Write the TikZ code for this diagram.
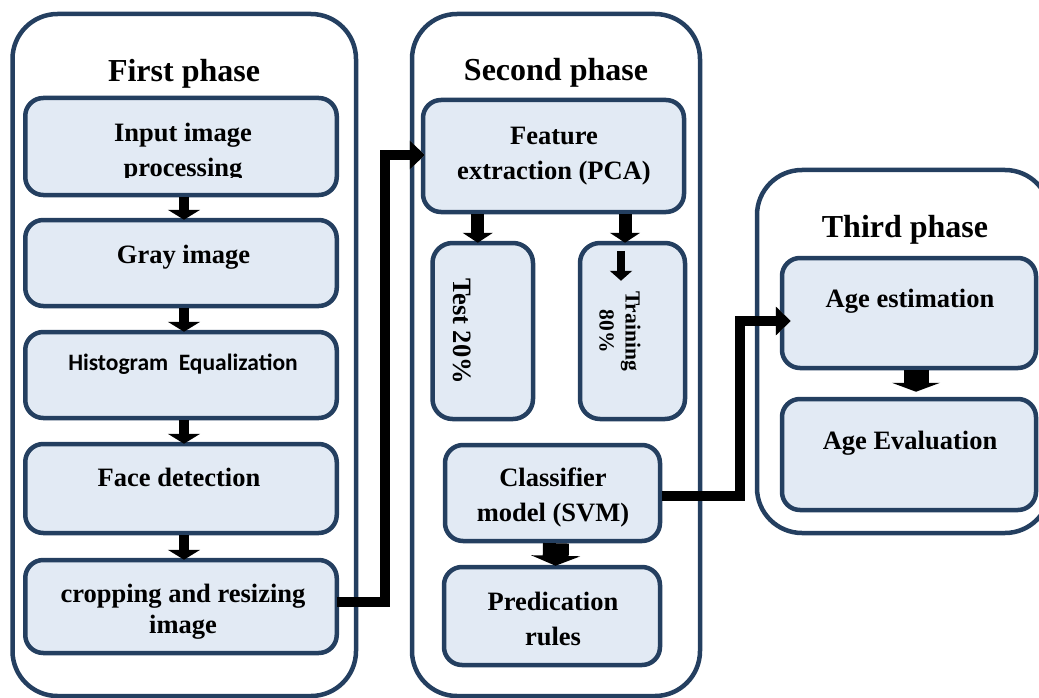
\documentclass[tikz,border=0pt]{standalone}
\usepackage{fontspec}
\setmainfont{Liberation Serif}
\newfontfamily\calfont{Carlito}
\usetikzlibrary{arrows.meta,calc}
\definecolor{navy}{HTML}{243F60}
\definecolor{boxfill}{HTML}{E2EAF4}
\begin{document}
\begin{tikzpicture}[x=1pt,y=-1pt,
  phase/.style={draw=navy,line width=4.5pt,rounded corners=45pt,inner sep=0pt},
  stepbox/.style={draw=navy,fill=boxfill,line width=4.5pt,rounded corners=18pt,inner sep=0pt},
  ptitle/.style={font=\fontsize{32}{38}\selectfont\bfseries,anchor=base,inner sep=0pt},
  lbl/.style={font=\fontsize{26.5}{35}\selectfont\bfseries,align=center,inner sep=0pt},
  lblb/.style={lbl,anchor=base},
  arrA/.style={line width=10pt,-{Triangle[width=32pt,length=10pt]}},
  arrB/.style={line width=13pt,-{Triangle[width=30pt,length=10pt]}},
  arrC/.style={line width=8pt,-{Triangle[width=22pt,length=10pt]}},
  arrD/.style={line width=26pt,-{Triangle[width=49pt,length=10pt]}},
  conn/.style={line width=10pt,line join=miter,-{Triangle[width=28pt,length=15pt]}}
]
\useasboundingbox (0,0) rectangle (1039,698);

% phases
\node[phase,minimum width=343.5pt,minimum height=682pt] (p1) at (184.25,355) {};
\node[phase,minimum width=288pt,minimum height=682pt] (p2) at (556,355) {};
\node[phase,minimum width=293pt,minimum height=363pt] (p3) at (903.5,351.5) {};

\node[ptitle] (t1) at (184,82) {First phase};
\node[ptitle] (t2) at (556,81) {Second phase};
\node[ptitle] (t3) at (905,237) {Third phase};

% first phase boxes
\node[stepbox,minimum width=311.5pt,minimum height=97pt] (inp) at (181,146.5) {};
\node[stepbox,minimum width=311.5pt,minimum height=86pt] (gray) at (181,263) {};
\node[stepbox,minimum width=311.5pt,minimum height=86pt] (hist) at (181,375) {};
\node[stepbox,minimum width=311.5pt,minimum height=89pt] (face) at (181,488.5) {};
\node[stepbox,minimum width=311.5pt,minimum height=93pt] (crop) at (181,606.5) {};

\begin{scope}
  \clip (20,95) rectangle (345,178);
  \node[lbl] (inpt) at (183,152.5) {Input image\\processing};
\end{scope}
\node[lblb] (grayt) at (183.5,263) {Gray image};
\node[font=\calfont\fontsize{23.5}{28}\selectfont\bfseries,anchor=base,inner sep=0pt] (histt) at (183,370) {Histogram\ \ Equalization};
\node[lblb] (facet) at (179,486) {Face detection};
\node[lbl,font=\fontsize{26.5}{31}\selectfont\bfseries] (cropt) at (183,611.5) {cropping and resizing\\image};

% second phase boxes
\node[stepbox,minimum width=261pt,minimum height=112pt] (feat) at (553.5,156) {};
\node[stepbox,minimum width=100.5pt,minimum height=176pt,rounded corners=20pt] (test) at (482.75,331) {};
\node[stepbox,minimum width=105pt,minimum height=176pt,rounded corners=20pt] (train) at (632.5,331) {};
\node[stepbox,minimum width=215pt,minimum height=96pt] (clas) at (552.5,493) {};
\node[stepbox,minimum width=216pt,minimum height=98pt] (pred) at (552,616) {};

\node[lbl] (featt) at (554,156.5) {Feature\\extraction (PCA)};
\node[lbl,rotate=-90] (testt) at (462,331) {Test 20\%};
\node[font=\fontsize{21.5}{26}\selectfont\bfseries,align=center,inner sep=0pt,rotate=-90] (traint) at (620,331) {Training\\80\%};
\node[lbl] (clast) at (553,497) {Classifier\\model (SVM)};
\node[lbl] (predt) at (553,619) {Predication\\rules};

% third phase boxes
\node[stepbox,minimum width=254pt,minimum height=110pt] (agee) at (909,313) {};
\node[stepbox,minimum width=254pt,minimum height=111pt] (ageev) at (909,454.5) {};
\node[lblb] (ageet) at (910,307) {Age estimation};
\node[lblb] (ageevt) at (910,449) {Age Evaluation};

% arrows in first phase
\draw[arrA] ($(inp.south)+(3,0)$) -- ($(gray.north)+(3,2)$);
\draw[arrA] ($(gray.south)+(3,0)$) -- ($(hist.north)+(3,2)$);
\draw[arrA] ($(hist.south)+(3,0)$) -- ($(face.north)+(3,2)$);
\draw[arrA] ($(face.south)+(3,0)$) -- ($(crop.north)+(3,2)$);

% arrows in second phase
\coordinate (ta) at ($(test.north)+(-5,0)$);
\coordinate (tb) at ($(train.north)+(-7.5,0)$);
\draw[arrB] (feat.south -| ta) -- ($(ta)+(0,2)$);
\draw[arrB] (feat.south -| tb) -- ($(tb)+(0,2)$);
\draw[arrC] ($(train.north)+(-11.5,10)$) -- ($(train.north)+(-11.5,40)$);
\draw[arrD] ($(clas.south)+(3.5,0)$) -- ($(pred.north)+(3.5,1)$);

% arrow in third phase
\draw[arrD,line width=25pt,-{Triangle[width=48pt,length=9pt]}] ($(agee.south)+(7,0)$) -- ($(ageev.north)+(7,-5)$);

% connectors between phases
\coordinate (c1) at (385,155);
\coordinate (c2) at (740,321);
\draw[conn,draw=black!30,shift={(3,5)},shorten >=-4pt] (c1) -- (feat.west |- c1);
\draw[conn,shorten >=-4pt] ($(crop.east)+(-2,-5)$) -| (c1) -- (feat.west |- c1);
\draw[conn,draw=black!30,shift={(3,5)},shorten >=-11pt] (c2) -- (agee.west |- c2);
\draw[conn,shorten >=-11pt] ($(clas.east)+(0,3)$) -| (c2) -- (agee.west |- c2);
\end{tikzpicture}
\end{document}
